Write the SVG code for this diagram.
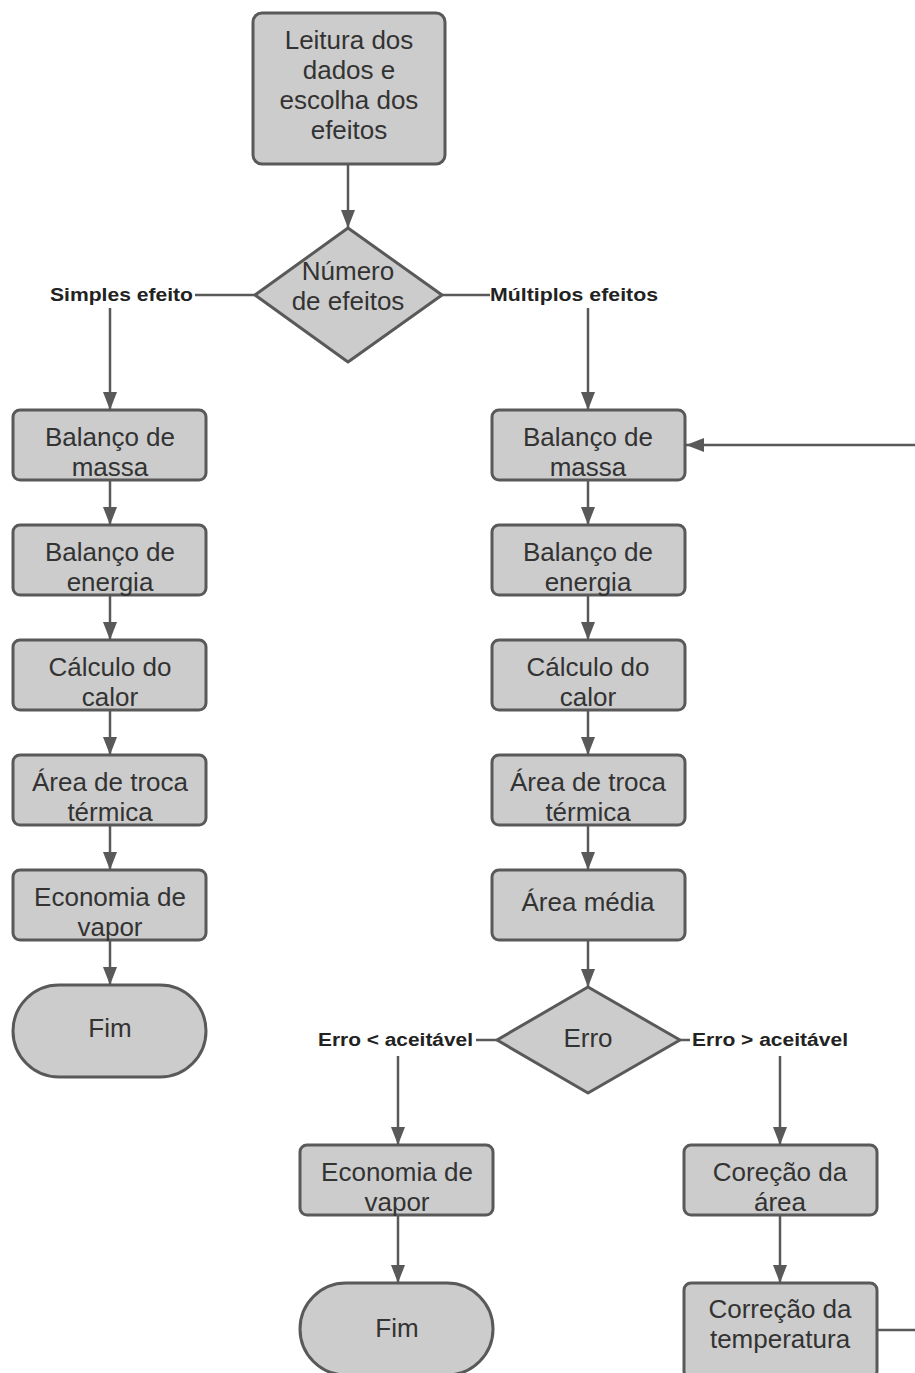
<svg xmlns="http://www.w3.org/2000/svg" width="915" height="1373" viewBox="0 0 915 1373">
<style>
.n{fill:#cccccc;stroke:#595959;stroke-width:3}
.t{font-family:"Liberation Sans",Arial,sans-serif;font-size:26px;fill:#333333;text-anchor:middle}
.l{font-family:"Liberation Sans",Arial,sans-serif;font-size:18px;font-weight:bold;fill:#222222}
.c{stroke:#595959;stroke-width:2.5;fill:none}
</style>
<defs>
<marker id="ah" markerUnits="userSpaceOnUse" markerWidth="18" markerHeight="14" refX="18" refY="7" orient="auto">
<path d="M0,0 L18,7 L0,14 z" fill="#595959"/>
</marker>
</defs>
<rect width="915" height="1373" fill="#ffffff"/>
<g id="connectors">
<line class="c" x1="348" y1="164" x2="348" y2="228" marker-end="url(#ah)"/>
<line class="c" x1="255" y1="295" x2="195" y2="295"/>
<line class="c" x1="110" y1="308" x2="110" y2="410" marker-end="url(#ah)"/>
<line class="c" x1="442" y1="295" x2="490" y2="295"/>
<line class="c" x1="588" y1="308" x2="588" y2="410" marker-end="url(#ah)"/>
<line class="c" x1="110" y1="480" x2="110" y2="525" marker-end="url(#ah)"/>
<line class="c" x1="110" y1="595" x2="110" y2="640" marker-end="url(#ah)"/>
<line class="c" x1="110" y1="710" x2="110" y2="755" marker-end="url(#ah)"/>
<line class="c" x1="110" y1="825" x2="110" y2="870" marker-end="url(#ah)"/>
<line class="c" x1="110" y1="940" x2="110" y2="985" marker-end="url(#ah)"/>
<line class="c" x1="588" y1="480" x2="588" y2="525" marker-end="url(#ah)"/>
<line class="c" x1="588" y1="595" x2="588" y2="640" marker-end="url(#ah)"/>
<line class="c" x1="588" y1="710" x2="588" y2="755" marker-end="url(#ah)"/>
<line class="c" x1="588" y1="825" x2="588" y2="870" marker-end="url(#ah)"/>
<line class="c" x1="588" y1="940" x2="588" y2="987" marker-end="url(#ah)"/>
<line class="c" x1="497" y1="1040" x2="476" y2="1040"/>
<line class="c" x1="398" y1="1056" x2="398" y2="1145" marker-end="url(#ah)"/>
<line class="c" x1="398" y1="1215" x2="398" y2="1283" marker-end="url(#ah)"/>
<line class="c" x1="680" y1="1040" x2="690" y2="1040"/>
<line class="c" x1="780" y1="1056" x2="780" y2="1145" marker-end="url(#ah)"/>
<line class="c" x1="780" y1="1215" x2="780" y2="1283" marker-end="url(#ah)"/>
<line class="c" x1="877" y1="1330" x2="915" y2="1330"/>
<line class="c" x1="915" y1="445" x2="686" y2="445" marker-end="url(#ah)"/>
<text class="l" x="50" y="301" textLength="143" lengthAdjust="spacingAndGlyphs">Simples efeito</text>
<text class="l" x="490" y="301" textLength="168" lengthAdjust="spacingAndGlyphs">Múltiplos efeitos</text>
<text class="l" x="318" y="1046" textLength="155" lengthAdjust="spacingAndGlyphs">Erro &lt; aceitável</text>
<text class="l" x="692" y="1046" textLength="156" lengthAdjust="spacingAndGlyphs">Erro &gt; aceitável</text>
</g>
<g id="start">
<rect class="n" x="253" y="13" width="192" height="151" rx="9"/>
<text class="t" x="349" y="49">Leitura dos</text>
<text class="t" x="349" y="79">dados e</text>
<text class="t" x="349" y="109">escolha dos</text>
<text class="t" x="349" y="139">efeitos</text>
</g>
<g id="dec-efeitos">
<path class="n" d="M348,228 L442,295 L348,362 L255,295 Z" stroke-linejoin="round"/>
<text class="t" x="348" y="280">Número</text>
<text class="t" x="348" y="310">de efeitos</text>
</g>
<g id="s-massa">
<rect class="n" x="13" y="410" width="193" height="70" rx="7"/>
<text class="t" x="110" y="446">Balanço de</text>
<text class="t" x="110" y="476">massa</text>
</g>
<g id="s-energia">
<rect class="n" x="13" y="525" width="193" height="70" rx="7"/>
<text class="t" x="110" y="561">Balanço de</text>
<text class="t" x="110" y="591">energia</text>
</g>
<g id="s-calor">
<rect class="n" x="13" y="640" width="193" height="70" rx="7"/>
<text class="t" x="110" y="676">Cálculo do</text>
<text class="t" x="110" y="706">calor</text>
</g>
<g id="s-area">
<rect class="n" x="13" y="755" width="193" height="70" rx="7"/>
<text class="t" x="110" y="791">Área de troca</text>
<text class="t" x="110" y="821">térmica</text>
</g>
<g id="s-economia">
<rect class="n" x="13" y="870" width="193" height="70" rx="7"/>
<text class="t" x="110" y="906">Economia de</text>
<text class="t" x="110" y="936">vapor</text>
</g>
<g id="s-fim">
<rect class="n" x="13" y="985" width="193" height="92" rx="46"/>
<text class="t" x="110" y="1037">Fim</text>
</g>
<g id="m-massa">
<rect class="n" x="492" y="410" width="193" height="70" rx="7"/>
<text class="t" x="588" y="446">Balanço de</text>
<text class="t" x="588" y="476">massa</text>
</g>
<g id="m-energia">
<rect class="n" x="492" y="525" width="193" height="70" rx="7"/>
<text class="t" x="588" y="561">Balanço de</text>
<text class="t" x="588" y="591">energia</text>
</g>
<g id="m-calor">
<rect class="n" x="492" y="640" width="193" height="70" rx="7"/>
<text class="t" x="588" y="676">Cálculo do</text>
<text class="t" x="588" y="706">calor</text>
</g>
<g id="m-area">
<rect class="n" x="492" y="755" width="193" height="70" rx="7"/>
<text class="t" x="588" y="791">Área de troca</text>
<text class="t" x="588" y="821">térmica</text>
</g>
<g id="m-media">
<rect class="n" x="492" y="870" width="193" height="70" rx="7"/>
<text class="t" x="588" y="911">Área média</text>
</g>
<g id="dec-erro">
<path class="n" d="M588,987 L680,1040 L588,1093 L497,1040 Z" stroke-linejoin="round"/>
<text class="t" x="588" y="1047">Erro</text>
</g>
<g id="m-economia">
<rect class="n" x="300" y="1145" width="193" height="70" rx="7"/>
<text class="t" x="397" y="1181">Economia de</text>
<text class="t" x="397" y="1211">vapor</text>
</g>
<g id="m-fim">
<rect class="n" x="300" y="1283" width="193" height="92" rx="46"/>
<text class="t" x="397" y="1337">Fim</text>
</g>
<g id="corr-area">
<rect class="n" x="684" y="1145" width="193" height="70" rx="7"/>
<text class="t" x="780" y="1181">Coreção da</text>
<text class="t" x="780" y="1211">área</text>
</g>
<g id="corr-temp">
<rect class="n" x="684" y="1283" width="193" height="95" rx="7"/>
<text class="t" x="780" y="1318">Correção da</text>
<text class="t" x="780" y="1348">temperatura</text>
</g>
</svg>
